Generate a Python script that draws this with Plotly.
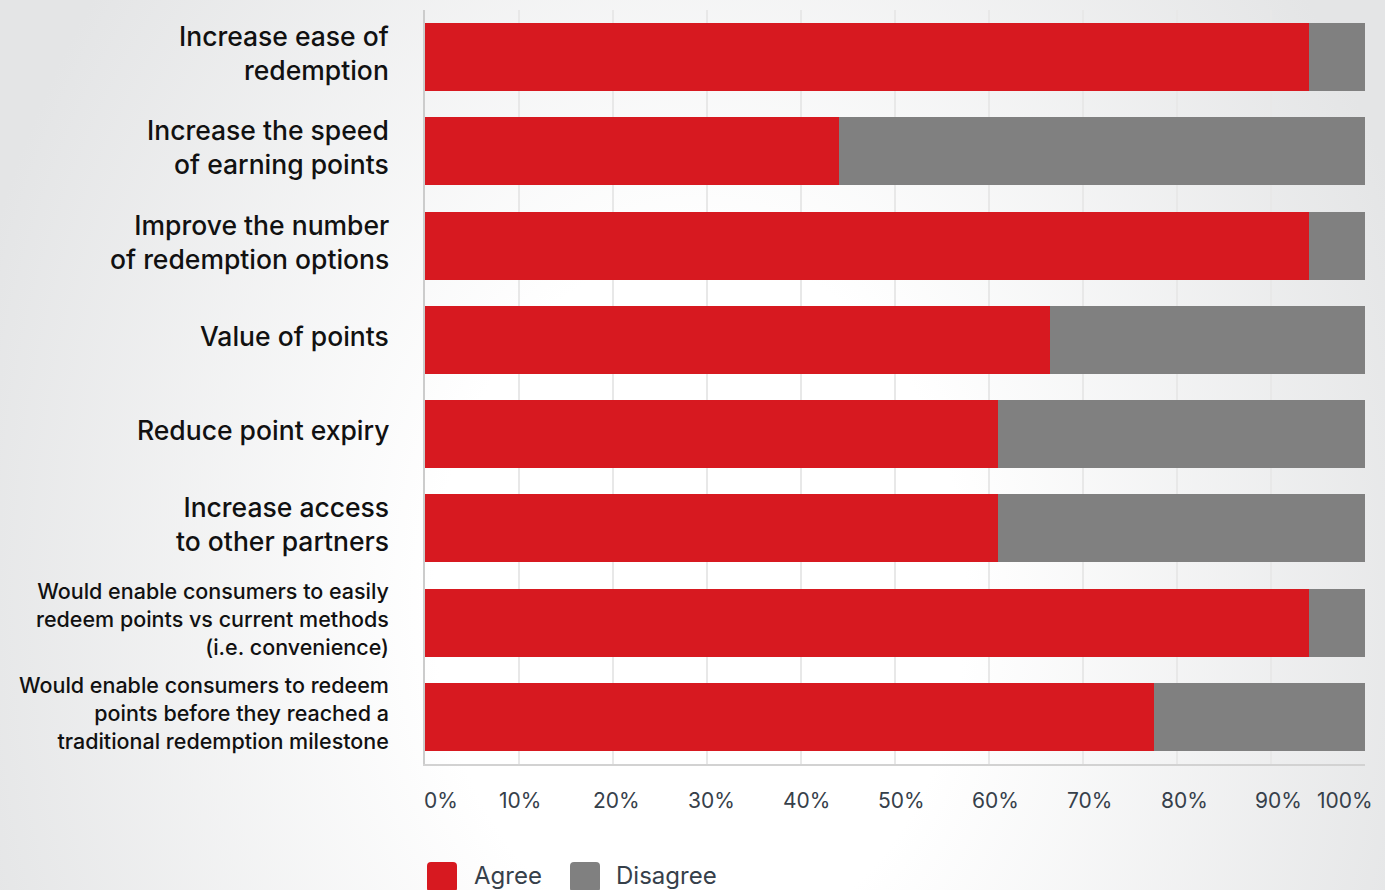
import plotly.graph_objects as go

# Survey statements (top to bottom) and the share that agree / disagree, in percent
categories = [
    "Increase ease of<br>redemption",
    "Increase the speed<br>of earning points",
    "Improve the number<br>of redemption options",
    "Value of points",
    "Reduce point expiry",
    "Increase access<br>to other partners",
    "Would enable consumers to easily<br>redeem points vs current methods<br>(i.e. convenience)",
    "Would enable consumers to redeem<br>points before they reached a<br>traditional redemption milestone",
]
agree = [94, 44, 94, 66.5, 61, 61, 94, 77.5]
disagree = [6, 56, 6, 33.5, 39, 39, 6, 22.5]

tick_values = [0, 10, 20, 30, 40, 50, 60, 70, 80, 90, 100]
tick_labels = ["0%", "10%", "20%", "30%", "40%", "50%", "60%", "70%", "80%", "90%", "100%"]

series_names = ["Agree", "Disagree"]

# ---- styling ----
W, H = 1385, 890
RED = "#d71920"
GREY = "#808080"
FONT = "Inter"
TEXT_DARK = "#111111"
TEXT_AXIS = "#36404a"

# plot area in pixels
PX_L, PX_R, PX_T, PX_B = 425, 1365, 10, 764
# horizontal nudges for the percentage labels under the axis
tick_shift = [16, 0.5, 3, 4, 5.5, 6.5, 6.5, 6, 7.5, 7.5, -20]

fig = go.Figure()

# Soft radial background spanning the whole canvas (pixel-space helper axes)
fig.add_trace(go.Scatter(
    x=[-60, 1460, 1460, -60, -60],
    y=[-400, -400, 1600, 1600, -400],
    mode="lines",
    line=dict(width=0),
    fill="toself",
    fillgradient=dict(
        type="radial",
        colorscale=[[0, "#ffffff"], [0.35, "#ffffff"], [1, "#e4e5e6"]],
    ),
    hoverinfo="skip",
    showlegend=False,
    xaxis="x",
    yaxis="y",
))

colors = [RED, GREY]
for name, vals, col in zip(series_names, [agree, disagree], colors):
    fig.add_trace(go.Bar(
        name=name,
        y=categories,
        x=vals,
        orientation="h",
        marker=dict(color=col, line=dict(width=0)),
        width=0.72,
        xaxis="x2",
        yaxis="y2",
        showlegend=False,
        hovertemplate="%{y}: %{x}%<extra>" + name + "</extra>",
    ))

annotations = []

# Category labels, right-aligned left of the plot
for cat in categories:
    n_lines = cat.count("<br>") + 1
    size = 21.5 if n_lines >= 3 else 26.5
    annotations.append(dict(
        x=391 / W, xref="paper", xanchor="right",
        y=cat, yref="y2", yanchor="middle", yshift=4,
        text=cat, showarrow=False, align="right",
        font=dict(family=FONT, size=size, color=TEXT_DARK, weight=500),
    ))

# Percentage labels under the axis
for v, lab, sh in zip(tick_values, tick_labels, tick_shift):
    annotations.append(dict(
        x=v, xref="x2", xanchor="center", xshift=sh,
        y=1 - 800 / H, yref="paper", yanchor="middle",
        text=lab, showarrow=False,
        font=dict(family=FONT, size=21, color=TEXT_AXIS),
    ))

# Legend drawn as rounded swatches + labels (pixel coordinates via helper axes)
def rounded_square(x0, y0, size, r):
    x1, y1 = x0 + size, y0 + size
    return (f"M{x0 + r},{y0} L{x1 - r},{y0} Q{x1},{y0} {x1},{y0 + r} "
            f"L{x1},{y1 - r} Q{x1},{y1} {x1 - r},{y1} L{x0 + r},{y1} "
            f"Q{x0},{y1} {x0},{y1 - r} L{x0},{y0 + r} Q{x0},{y0} {x0 + r},{y0} Z")

shapes = []
legend_pos = [(427, 472), (570, 614)]
for (sx, tx), name, col in zip(legend_pos, series_names, colors):
    shapes.append(dict(
        type="path", xref="x", yref="y",
        path=rounded_square(sx, 862, 30, 4),
        fillcolor=col, line=dict(width=0), layer="above",
    ))
    annotations.append(dict(
        x=tx, xref="x", xanchor="left",
        y=875, yref="y", yanchor="middle",
        text=name, showarrow=False,
        font=dict(family=FONT, size=24, color=TEXT_AXIS),
    ))

fig.update_layout(
    width=W, height=H,
    margin=dict(l=0, r=0, t=0, b=0),
    paper_bgcolor="#ffffff",
    plot_bgcolor="rgba(0,0,0,0)",
    barmode="stack",
    showlegend=False,
    font=dict(family=FONT),
    xaxis=dict(domain=[0, 1], range=[0, W], visible=False, fixedrange=True),
    yaxis=dict(domain=[0, 1], range=[H, 0], visible=False, fixedrange=True),
    xaxis2=dict(
        domain=[PX_L / W, PX_R / W], range=[0, 100], anchor="y2",
        tickvals=tick_values, showticklabels=False, ticks="",
        showgrid=True, gridcolor="#e8e8e8", gridwidth=2,
        zeroline=False, showline=True, linecolor="#d2d2d2", linewidth=2,
        fixedrange=True,
    ),
    yaxis2=dict(
        domain=[1 - PX_B / H, 1 - PX_T / H], anchor="x2",
        type="category", categoryorder="array", categoryarray=categories,
        range=[len(categories) - 0.5, -0.5],
        showticklabels=False, ticks="", showgrid=False, zeroline=False,
        showline=True, linecolor="#cccccc", linewidth=2,
        fixedrange=True,
    ),
    annotations=annotations,
    shapes=shapes,
)

fig.write_html("out.html")
